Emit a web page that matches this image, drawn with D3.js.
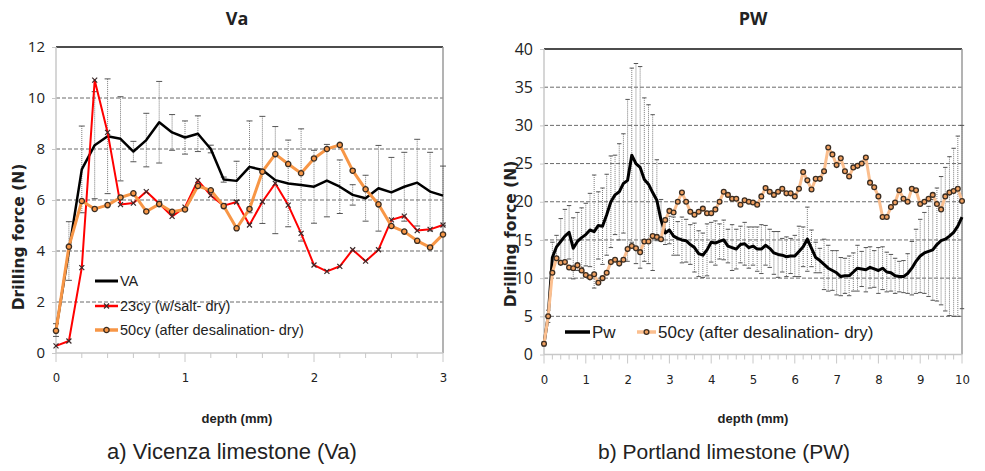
<!DOCTYPE html>
<html>
<head>
<meta charset="utf-8">
<script src="https://cdn.jsdelivr.net/npm/d3@7"></script>
<style>
  body { margin: 0; background: #fff; }
  text { fill: #222; }
</style>
</head>
<body>
<div id="chart"></div>
<script>
// ---- Va panel data (depth in mm, force in N) ----
var vaDepth = [0, 0.1, 0.2, 0.3, 0.4, 0.5, 0.6, 0.7, 0.8, 0.9, 1, 1.1, 1.2, 1.3, 1.4, 1.5,
  1.6, 1.7, 1.8, 1.9, 2, 2.1, 2.2, 2.3, 2.4, 2.5, 2.6, 2.7, 2.8, 2.9, 3];
var vaMean = [0.9, 4.0, 7.2, 8.15, 8.5, 8.4, 7.9, 8.35, 9.05, 8.65, 8.45, 8.6, 8.0, 6.8, 6.75, 7.3,
  7.18, 6.78, 6.65, 6.59, 6.52, 6.76, 6.52, 6.2, 6.07, 6.46, 6.3, 6.52, 6.68, 6.33, 6.17];
var vaErr = [0.25, 1.15, 1.7, 2.1, 2.25, 1.65, 0.4, 1.05, 1.6, 0.7, 0.65, 0.7, 0.15, 0.1, 0.77, 1.8,
  2.1, 2.1, 1.7, 2.2, 1.43, 1.42, 1.05, 0.4, 0.9, 1.68, 1.37, 1.35, 1.7, 1.54, 1.16];
var va23cy = [0.28, 0.47, 3.35, 10.7, 8.65, 5.82, 5.88, 6.33, 5.86, 5.36, 5.72, 6.77, 6.18, 5.78, 5.92, 5.02,
  5.93, 6.65, 5.8, 4.69, 3.45, 3.2, 3.4, 4.05, 3.6, 4.05, 5.22, 5.37, 4.8, 4.85, 5.02];
var va50cy = [0.87, 4.17, 5.96, 5.65, 5.8, 6.1, 6.26, 5.55, 5.84, 5.54, 5.63, 6.55, 6.38, 5.76, 4.89, 5.65,
  7.11, 7.8, 7.41, 7.05, 7.63, 8.0, 8.16, 7.15, 6.42, 5.83, 4.98, 4.76, 4.4, 4.14, 4.65];

// ---- PW panel data ----
var pwDepth = [0, 0.1, 0.2, 0.3, 0.4, 0.5, 0.6, 0.7, 0.8, 0.9, 1, 1.1, 1.2, 1.3, 1.4, 1.5, 1.6, 1.7, 1.8, 1.9,
  2, 2.1, 2.2, 2.3, 2.4, 2.5, 2.6, 2.7, 2.8, 2.9, 3, 3.1, 3.2, 3.3, 3.4, 3.5, 3.6, 3.7, 3.8, 3.9,
  4, 4.1, 4.2, 4.3, 4.4, 4.5, 4.6, 4.7, 4.8, 4.9, 5, 5.1, 5.2, 5.3, 5.4, 5.5, 5.6, 5.7, 5.8, 5.9,
  6, 6.1, 6.2, 6.3, 6.4, 6.5, 6.6, 6.7, 6.8, 6.9, 7, 7.1, 7.2, 7.3, 7.4, 7.5, 7.6, 7.7, 7.8, 7.9,
  8, 8.1, 8.2, 8.3, 8.4, 8.5, 8.6, 8.7, 8.8, 8.9, 9, 9.1, 9.2, 9.3, 9.4, 9.5, 9.6, 9.7, 9.8, 9.9, 10];
var pwMean = [1.4, 5.0, 12.7, 14.1, 14.8, 15.5, 16.0, 13.9, 14.8, 15.3, 15.7, 16.3, 16.1, 16.9, 16.8, 18.3, 20.0, 20.9, 21.3, 22.4,
  22.8, 26.1, 25.0, 24.5, 22.9, 22.3, 21.2, 20.2, 17.6, 15.9, 16.3, 15.5, 15.2, 15.0, 14.9, 14.4, 14.0, 13.2, 13.0, 13.7,
  14.7, 14.6, 14.8, 15.0, 14.2, 14.0, 13.8, 14.4, 14.5, 14.0, 14.2, 13.8, 13.8, 14.3, 13.9, 13.3, 13.1, 13.0, 12.8, 12.9,
  12.9, 13.5, 14.1, 15.1, 13.9, 12.7, 12.3, 11.8, 11.3, 11.0, 10.7, 10.2, 10.3, 10.3, 10.8, 11.3, 11.2, 11.1, 11.4, 11.2,
  11.0, 11.3, 10.8, 10.7, 10.3, 10.2, 10.2, 10.6, 11.3, 12.2, 12.9, 13.3, 13.5, 13.7, 14.4, 14.9, 15.1, 15.5, 16.0, 16.8, 18.0];
var pwErr = [0.3, 0.8, 2.0, 1.5, 3.0, 3.5, 3.5, 4.0, 3.8, 3.9, 4.1, 4.8, 7.4, 4.4, 5.0, 5.3, 6.0, 5.2, 6.3, 6.5,
  10.6, 11.4, 13.1, 13.2, 10.7, 10.4, 10.2, 5.3, 2.7, 1.5, 1.8, 2.5, 2.2, 3.0, 2.8, 2.6, 3.2, 3.0, 2.9, 3.4,
  2.6, 2.9, 2.3, 2.6, 2.2, 3.0, 2.6, 2.4, 2.8, 2.7, 2.5, 2.9, 3.2, 2.6, 2.5, 2.8, 3.0, 2.2, 2.6, 2.3,
  2.7, 3.3, 2.6, 4.2, 2.4, 2.0, 1.6, 3.3, 3.0, 2.6, 2.9, 2.5, 2.3, 2.6, 2.5, 3.0, 2.3, 2.9, 2.7, 2.4,
  3.0, 2.8, 2.6, 2.4, 2.3, 2.0, 2.1, 2.6, 3.5, 4.2, 4.8, 5.3, 5.9, 6.6, 7.4, 8.4, 9.4, 10.4, 11.0, 11.8, 12.0];
var pw50cy = [1.4, 5.0, 10.7, 12.6, 12.0, 12.1, 11.4, 11.3, 11.7, 11.0, 10.4, 10.1, 10.5, 9.4, 10.0, 10.7, 12.1, 12.4, 11.9, 12.4,
  13.8, 14.2, 13.9, 13.4, 14.8, 14.8, 15.5, 15.4, 15.1, 17.6, 18.8, 18.6, 20.0, 21.2, 20.0, 18.7, 18.3, 18.7, 19.1, 18.5,
  18.5, 19.0, 20.0, 21.3, 20.9, 20.4, 20.4, 19.6, 20.2, 20.0, 19.9, 19.6, 20.7, 21.8, 21.3, 20.9, 21.3, 21.7, 21.1, 21.1,
  20.7, 21.7, 23.9, 22.8, 21.6, 23.0, 23.0, 24.0, 27.1, 26.2, 24.8, 25.7, 24.0, 23.3, 24.5, 24.7, 25.0, 25.8, 22.5, 21.9,
  20.7, 18.0, 18.0, 19.3, 19.9, 21.5, 20.4, 20.0, 21.7, 21.5, 19.7, 20.0, 20.4, 20.9, 19.7, 19.0, 20.7, 21.2, 21.4, 21.7, 20.1];

var vaTicksY = [0, 2, 4, 6, 8, 10, 12];
var pwTicksY = [0, 5, 10, 15, 20, 25, 30, 35, 40];
var vaTicksX = [0, 1, 2, 3];
var pwTicksX = [0, 1, 2, 3, 4, 5, 6, 7, 8, 9, 10];

var svg = d3.select("#chart").append("svg")
    .attr("width", 985)
    .attr("height", 471);

var narrow = "'DejaVu Sans Condensed', 'DejaVu Sans', sans-serif";
var arial = "'Liberation Sans', Arial, sans-serif";

function drawPanel(p) {
    var x = d3.scaleLinear().domain([0, p.xMax]).range([p.left, p.right]);
    var y = d3.scaleLinear().domain([0, p.yMax]).range([p.bottom, p.top]);
    var g = svg.append("g");

    // gridlines
    g.selectAll(".grid")
        .data(p.yTicks.filter(function (d) { return d > 0 && d < p.yMax; }))
        .enter().append("line")
        .attr("x1", p.left).attr("x2", p.right)
        .attr("y1", function (d) { return y(d); })
        .attr("y2", function (d) { return y(d); })
        .attr("stroke", "#6b6b6b")
        .attr("stroke-width", 1)
        .attr("stroke-dasharray", "4,2");

    // frame: top black, right grey, left/bottom light grey
    g.append("line").attr("x1", p.left).attr("x2", p.right)
        .attr("y1", y(p.yMax)).attr("y2", y(p.yMax))
        .attr("stroke", "#111").attr("stroke-width", 1.5);
    g.append("line").attr("x1", p.right).attr("x2", p.right)
        .attr("y1", p.top).attr("y2", p.bottom)
        .attr("stroke", "#9a9a9a").attr("stroke-width", 1.5);
    g.append("line").attr("x1", p.left).attr("x2", p.left)
        .attr("y1", p.top).attr("y2", p.bottom)
        .attr("stroke", "#c8c8c8").attr("stroke-width", 1.5);
    g.append("line").attr("x1", p.left).attr("x2", p.right)
        .attr("y1", p.bottom).attr("y2", p.bottom)
        .attr("stroke", "#c8c8c8").attr("stroke-width", 1.5);

    // y axis labels + small ticks
    var yAxis = d3.axisLeft(y).tickValues(p.yTicks).tickSize(4).tickPadding(7);
    var ya = g.append("g").attr("transform", "translate(" + p.left + ",0)").call(yAxis);
    ya.select(".domain").remove();
    ya.selectAll(".tick line").attr("stroke", "#c8c8c8");
    ya.selectAll("text").style("font-family", "'Open Sans', sans-serif")
        .style("font-size", p.yFont + "px").attr("fill", "#222");

    // x minor ticks every 0.2, major ticks at integers
    var minor = d3.range(0, p.xMax + 0.001, 0.2);
    g.selectAll(".xt").data(minor).enter().append("line")
        .attr("x1", function (d) { return x(d); })
        .attr("x2", function (d) { return x(d); })
        .attr("y1", p.bottom)
        .attr("y2", function (d) { return Math.abs(d - Math.round(d)) < 0.01 ? p.bottom + 9 : p.bottom + 5; })
        .attr("stroke", "#c8c8c8");

    var xAxis = d3.axisBottom(x).tickValues(p.xTicks).tickFormat(d3.format("d"))
        .tickSize(0).tickPadding(20);
    var xa = g.append("g").attr("transform", "translate(0," + p.bottom + ")").call(xAxis);
    xa.select(".domain").remove();
    xa.selectAll("text").style("font-family", narrow)
        .style("font-size", "13px").attr("fill", "#222");

    // error bars
    var eb = g.append("g");
    p.depth.forEach(function (d, i) {
        var e = p.err[i];
        if (!e) return;
        var cx = x(d), y1 = y(p.mean[i] + e), y2 = y(p.mean[i] - e);
        eb.append("line").attr("x1", cx).attr("x2", cx).attr("y1", y1).attr("y2", y2)
            .attr("stroke", "#7a7a7a").attr("stroke-width", 1).attr("stroke-dasharray", "1,1");
        [y1, y2].forEach(function (yy) {
            eb.append("line").attr("x1", cx - p.cap).attr("x2", cx + p.cap)
                .attr("y1", yy).attr("y2", yy)
                .attr("stroke", "#555").attr("stroke-width", 1);
        });
    });

    // series
    p.series.forEach(function (s) {
        var line = d3.line()
            .x(function (d, i) { return x(p.depth[i]); })
            .y(function (d) { return y(d); });
        g.append("path").datum(s.values)
            .attr("d", line)
            .attr("fill", "none")
            .attr("stroke", s.color)
            .attr("stroke-width", s.width)
            .attr("stroke-linejoin", "round");
        if (s.marker) {
            s.values.forEach(function (v, i) {
                drawMarker(g, s.marker, x(p.depth[i]), y(v), s);
            });
        }
    });

    // titles
    g.append("text").attr("x", p.titleX).attr("y", 25)
        .attr("text-anchor", "middle")
        .style("font-family", "'Open Sans', sans-serif")
        .style("font-weight", "bold").style("font-size", "18px")
        .text(p.title);

    g.append("text")
        .attr("transform", "translate(" + p.yLabelX + "," + p.yLabelY + ") rotate(-90)")
        .attr("text-anchor", "middle")
        .style("font-family", "'DejaVu Sans', sans-serif")
        .style("font-weight", "bold").style("font-size", "15.5px")
        .text("Drilling force (N)");

    g.append("text").attr("x", p.titleX).attr("y", 423)
        .attr("text-anchor", "middle")
        .style("font-family", arial)
        .style("font-weight", "bold").style("font-size", "13px")
        .text("depth (mm)");

    g.append("text").attr("x", p.captionX).attr("y", 459)
        .attr("text-anchor", "middle")
        .style("font-family", arial)
        .style("font-size", p.captionFont + "px")
        .text(p.caption);

    // legend
    p.legend.forEach(function (l) {
        g.append("line").attr("x1", l.x1).attr("x2", l.x2).attr("y1", l.y).attr("y2", l.y)
            .attr("stroke", l.s.color).attr("stroke-width", l.s.width + 0.5);
        if (l.s.marker) drawMarker(g, l.s.marker, (l.x1 + l.x2) / 2, l.y, l.s);
        g.append("text").attr("x", l.x2 + 2).attr("y", l.y + p.legendFont * 0.36)
            .style("font-family", arial).style("font-size", p.legendFont + "px")
            .text(l.s.name);
    });
}

function drawMarker(g, type, cx, cy, s) {
    if (type === "x") {
        var r = 2.5;
        g.append("path")
            .attr("d", "M" + (cx - r) + "," + (cy - r) + "L" + (cx + r) + "," + (cy + r) +
                "M" + (cx - r) + "," + (cy + r) + "L" + (cx + r) + "," + (cy - r))
            .attr("stroke", "#3a2a2a").attr("stroke-width", 1.2);
    } else {
        g.append("path")
            .attr("transform", "translate(" + cx + "," + cy + ")")
            .attr("d", d3.symbol().type(d3.symbolCircle).size(s.msize)())
            .attr("fill", s.mfill).attr("stroke", "#3a2d22").attr("stroke-width", 1.3);
    }
}

var sVA = {name: "VA", values: vaMean, color: "#000", width: 2.5};
var s23 = {name: "23cy (w/salt- dry)", values: va23cy, color: "#ff0000", width: 2, marker: "x"};
var s50a = {name: "50cy (after desalination- dry)", values: va50cy, color: "#f79646", width: 3,
    marker: "o", mfill: "#f79646", msize: 22};
var sPW = {name: "Pw", values: pwMean, color: "#000", width: 3};
var s50b = {name: "50cy (after desalination- dry)", values: pw50cy, color: "#fbbf8f", width: 3,
    marker: "o", mfill: "#f0a060", msize: 18};

drawPanel({
    left: 56, right: 443, top: 47, bottom: 353,
    xMax: 3, yMax: 12, yTicks: vaTicksY, xTicks: vaTicksX, yFont: 15,
    depth: vaDepth, mean: vaMean, err: vaErr, cap: 3,
    series: [sVA, s23, s50a],
    title: "Va", titleX: 237, yLabelX: 24, yLabelY: 237,
    caption: "a) Vicenza limestone (Va)", captionX: 232, captionFont: 22,
    legendFont: 14.5,
    legend: [
        {s: sVA, x1: 95, x2: 118, y: 281},
        {s: s23, x1: 95, x2: 118, y: 306},
        {s: s50a, x1: 95, x2: 118, y: 330}
    ]
});

drawPanel({
    left: 544, right: 962, top: 49, bottom: 354.5,
    xMax: 10, yMax: 40, yTicks: pwTicksY, xTicks: pwTicksX, yFont: 16,
    depth: pwDepth, mean: pwMean, err: pwErr, cap: 2.2,
    series: [sPW, s50b],
    title: "PW", titleX: 753, yLabelX: 516, yLabelY: 234,
    caption: "b) Portland limestone (PW)", captionX: 724, captionFont: 21,
    legendFont: 17,
    legend: [
        {s: sPW, x1: 565, x2: 590, y: 332},
        {s: s50b, x1: 637, x2: 656, y: 332}
    ]
});
</script>
</body>
</html>
